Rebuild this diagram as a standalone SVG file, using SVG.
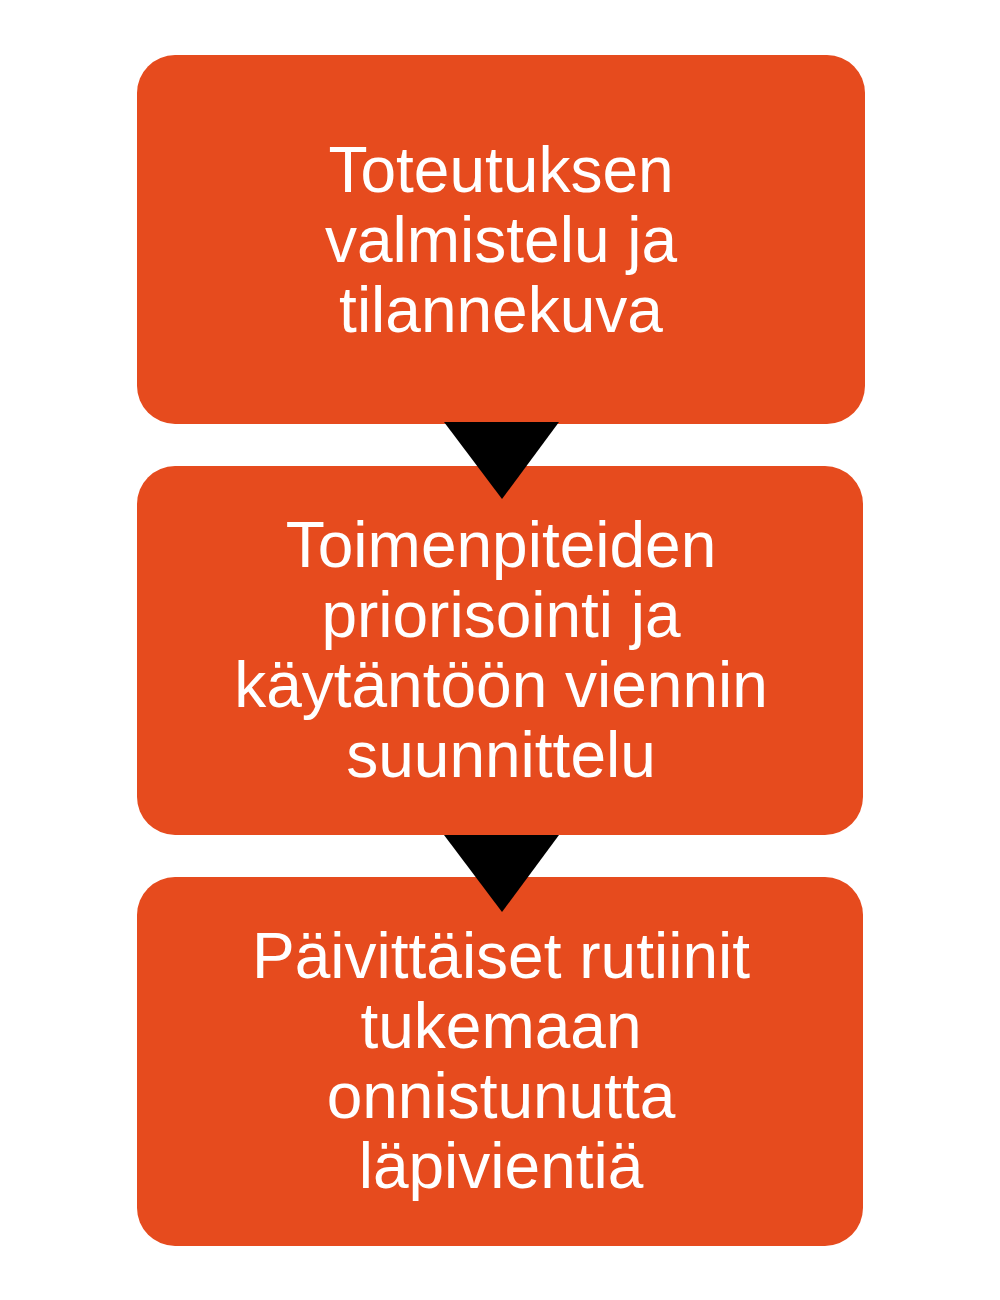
<svg xmlns="http://www.w3.org/2000/svg" width="1000" height="1300" viewBox="0 0 1000 1300">
<style>
.box{fill:#E64B1E}
.t{font-family:"Liberation Sans",Arial,sans-serif;font-size:64px;fill:#ffffff;text-anchor:middle}
.arr{fill:#000000}
</style>
<rect width="1000" height="1300" fill="#ffffff"/>
<g id="node1"><rect class="box" x="137" y="55" width="728" height="369" rx="38"/>
<text class="t" x="501" y="192">Toteutuksen</text>
<text class="t" x="501" y="262">valmistelu ja</text>
<text class="t" x="501" y="332">tilannekuva</text></g>
<g id="node2"><rect class="box" x="137" y="466" width="726" height="369" rx="38"/>
<text class="t" x="501" y="567">Toimenpiteiden</text>
<text class="t" x="501" y="637">priorisointi ja</text>
<text class="t" x="501" y="707">käytäntöön viennin</text>
<text class="t" x="501" y="777">suunnittelu</text></g>
<g id="node3"><rect class="box" x="137" y="877" width="726" height="369" rx="38"/>
<text class="t" x="501" y="978">Päivittäiset rutiinit</text>
<text class="t" x="501" y="1048">tukemaan</text>
<text class="t" x="501" y="1118">onnistunutta</text>
<text class="t" x="501" y="1188">läpivientiä</text></g>
<g id="connectors">
<polygon class="arr" points="444,422 559,422 502,499"/>
<polygon class="arr" points="444,835 559,835 502,912"/>
</g>
</svg>
